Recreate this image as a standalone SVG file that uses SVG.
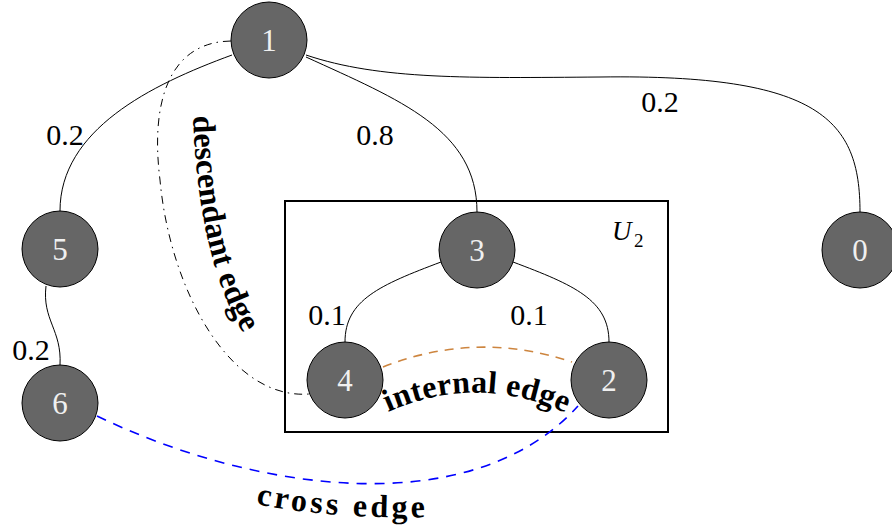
<svg xmlns="http://www.w3.org/2000/svg" xmlns:xlink="http://www.w3.org/1999/xlink" width="892" height="529" viewBox="0 0 892 529">
<style>
.edge{fill:none;stroke:#000;stroke-width:1}
.node circle{fill:#666666;stroke:#000;stroke-width:1}
.node text{font-family:"Liberation Serif","DejaVu Serif",serif;font-size:31px;fill:#f0f0f0;text-anchor:middle}
.lbl{font-family:"Liberation Serif","DejaVu Serif",serif;font-size:30px;fill:#000;text-anchor:middle}
.btxt{font-family:"Liberation Serif","DejaVu Serif",serif;font-size:32px;font-weight:bold;fill:#000}
</style>
<defs>
<path id="tp-desc" d="M 193 116 C 196 200, 210 280, 246 338"/>
<path id="tp-int" d="M 388 412 Q 478 372 570 415"/>
<path id="tp-cross" d="M 256 504 C 300 513, 360 519, 432 517"/>
</defs>
<rect id="U2-box" x="285" y="201" width="383" height="231" fill="none" stroke="#000" stroke-width="2"/>
<text x="612" y="240" font-family="Liberation Serif, DejaVu Serif, serif" font-style="italic" font-size="27">U</text>
<text x="634" y="247" font-family="Liberation Serif, DejaVu Serif, serif" font-size="19">2</text>
<g id="connectors">
<path class="edge" d="M 232 55 C 150 85, 60 130, 60 211"/>
<path class="edge" d="M 306 57 C 400 100, 477 130, 477 212"/>
<path class="edge" d="M 306 55 C 380 80, 470 78, 600 77 C 820 74, 860 120, 860 212"/>
<path class="edge" d="M 46 286 C 42 320, 62 330, 60 365"/>
<path class="edge" d="M 441 262 C 380 285, 345 300, 345 342"/>
<path class="edge" d="M 513 262 C 574 285, 609 300, 609 342"/>
<path class="edge" d="M 231 41 C 170 42, 150 100, 160 180 C 170 290, 230 400, 309 394" stroke-dasharray="8 5 1.5 5"/>
<path class="edge" d="M 383 367 Q 477 330 572 362" style="stroke:#CD853F;stroke-width:1.6" stroke-dasharray="9 7"/>
<path class="edge" d="M 97 416 C 250 490, 470 525, 578 406" style="stroke:#0000FF;stroke-width:1.6" stroke-dasharray="10 8"/>
<text class="lbl" x="65" y="145">0.2</text>
<text class="lbl" x="375" y="145">0.8</text>
<text class="lbl" x="660" y="112">0.2</text>
<text class="lbl" x="31" y="360">0.2</text>
<text class="lbl" x="327" y="325">0.1</text>
<text class="lbl" x="529" y="325">0.1</text>
<text class="btxt"><textPath xlink:href="#tp-desc" href="#tp-desc" textLength="225" lengthAdjust="spacing">descendant edge</textPath></text>
<text class="btxt"><textPath xlink:href="#tp-int" href="#tp-int" textLength="183" lengthAdjust="spacing">internal edge</textPath></text>
<text class="btxt"><textPath xlink:href="#tp-cross" href="#tp-cross" textLength="170" lengthAdjust="spacing">cross edge</textPath></text>
</g>
<g id="node-1" class="node"><circle cx="269" cy="40" r="38"/><text x="269" y="51">1</text></g>
<g id="node-5" class="node"><circle cx="60" cy="249" r="38"/><text x="60" y="260">5</text></g>
<g id="node-6" class="node"><circle cx="60" cy="403" r="38"/><text x="60" y="414">6</text></g>
<g id="node-3" class="node"><circle cx="477" cy="250" r="38"/><text x="477" y="261">3</text></g>
<g id="node-0" class="node"><circle cx="860" cy="250" r="38"/><text x="860" y="261">0</text></g>
<g id="node-4" class="node"><circle cx="345" cy="380" r="38"/><text x="345" y="391">4</text></g>
<g id="node-2" class="node"><circle cx="609" cy="380" r="38"/><text x="609" y="391">2</text></g>
</svg>
